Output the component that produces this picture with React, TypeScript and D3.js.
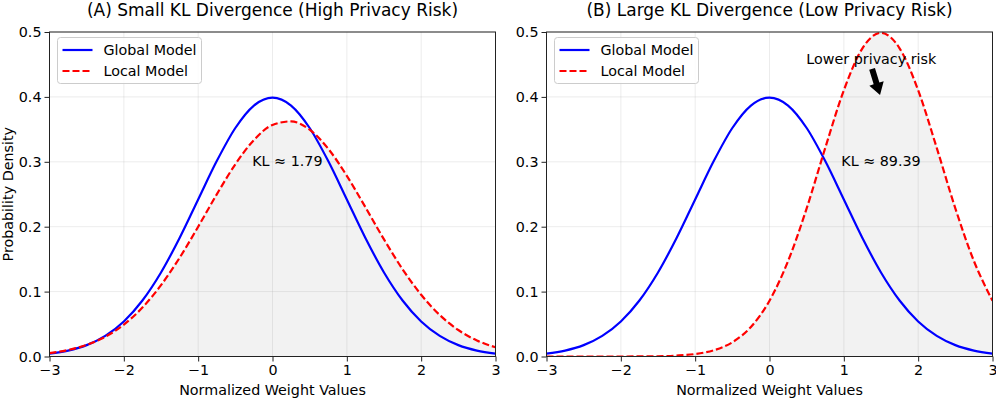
import React, { useRef, useEffect } from 'react';
import * as d3 from 'd3';

const xPoints = [-3, -2.75, -2.5, -2.25, -2, -1.75, -1.5, -1.25, -1, -0.75, -0.5, -0.25, 0,
  0.25, 0.5, 0.75, 1, 1.25, 1.5, 1.75, 2, 2.25, 2.5, 2.75, 3];

const globalModel = [0.0044, 0.0091, 0.0175, 0.0317, 0.0540, 0.0863, 0.1295, 0.1826, 0.2420, 0.3011,
  0.3521, 0.3867, 0.3989, 0.3867, 0.3521, 0.3011, 0.2420, 0.1826, 0.1295, 0.0863, 0.0540, 0.0317,
  0.0175, 0.0091, 0.0044];

const localSmallKL = [0.0053, 0.0100, 0.0178, 0.0304, 0.0491, 0.0754, 0.1099, 0.1521, 0.2000, 0.2498,
  0.2962, 0.3336, 0.3568, 0.3623, 0.3495, 0.3201, 0.2784, 0.2300, 0.1804, 0.1344, 0.0951, 0.0639,
  0.0408, 0.0247, 0.0142];

const localLargeKL = [0.0000, 0.0000, 0.0000, 0.0000, 0.0000, 0.0001, 0.0004, 0.0014, 0.0038, 0.0096,
  0.0219, 0.0456, 0.0860, 0.1471, 0.2283, 0.3214, 0.4102, 0.4749, 0.4987, 0.4749, 0.4102, 0.3214,
  0.2283, 0.1471, 0.0860];

const xTicks = [-3, -2, -1, 0, 1, 2, 3];
const yTicks = [0, 0.1, 0.2, 0.3, 0.4, 0.5];
const legendLabels = ['Global Model', 'Local Model'];

const panels = [
  { title: '(A) Small KL Divergence (High Privacy Risk)', local: localSmallKL, kl: 'KL ≈ 1.79', klX: 0.2, klY: 0.3, left: 49.5, yLabel: true, note: false },
  { title: '(B) Large KL Divergence (Low Privacy Risk)', local: localLargeKL, kl: 'KL ≈ 89.39', klX: 1.5, klY: 0.3, left: 546.5, yLabel: false, note: true },
];

const W = 996;
const H = 398;
const FONT = 'DejaVu Sans, sans-serif';
const FS = '14.3px';

const App = () => {
  const chartRef = useRef<SVGSVGElement | null>(null);

  useEffect(() => {
    const svg = d3.select(chartRef.current);
    svg.selectAll('*').remove();

    const axW = 446;
    const top = 32;
    const bottom = 356.5;

    panels.forEach(p => {
      const x = d3.scaleLinear().domain([-3, 3]).range([p.left, p.left + axW]);
      const y = d3.scaleLinear().domain([0, 0.5]).range([bottom, top]);
      const g = svg.append('g');

      // grid
      g.selectAll('.vgrid').data(xTicks).enter().append('line')
        .attr('x1', d => x(d)).attr('x2', d => x(d)).attr('y1', top).attr('y2', bottom)
        .attr('stroke', '#b0b0b0').attr('stroke-opacity', 0.3).attr('stroke-width', 0.8);
      g.selectAll('.hgrid').data(yTicks).enter().append('line')
        .attr('x1', p.left).attr('x2', p.left + axW).attr('y1', d => y(d)).attr('y2', d => y(d))
        .attr('stroke', '#b0b0b0').attr('stroke-opacity', 0.3).attr('stroke-width', 0.8);

      const localPts = xPoints.map((v, i) => [v, p.local[i]] as [number, number]);
      const globalPts = xPoints.map((v, i) => [v, globalModel[i]] as [number, number]);

      const area = d3.area<[number, number]>()
        .x(d => x(d[0])).y0(y(0)).y1(d => y(d[1])).curve(d3.curveMonotoneX);
      g.append('path').attr('d', area(localPts))
        .attr('fill', '#808080').attr('fill-opacity', 0.1)
        .attr('stroke', '#808080').attr('stroke-opacity', 0.1);

      const line = d3.line<[number, number]>()
        .x(d => x(d[0])).y(d => y(d[1])).curve(d3.curveMonotoneX);

      const clipId = 'clip' + p.left;
      svg.append('clipPath').attr('id', clipId).append('rect')
        .attr('x', p.left).attr('y', top - 2).attr('width', axW).attr('height', bottom - top + 2);

      g.append('path').attr('d', line(globalPts)).attr('fill', 'none')
        .attr('stroke', '#0000ff').attr('stroke-width', 2.2).attr('clip-path', `url(#${clipId})`);
      g.append('path').attr('d', line(localPts)).attr('fill', 'none')
        .attr('stroke', '#ff0000').attr('stroke-width', 2.2).attr('stroke-dasharray', '7,3')
        .attr('clip-path', `url(#${clipId})`);

      // spines
      g.append('rect').attr('x', p.left).attr('y', top).attr('width', axW).attr('height', bottom - top)
        .attr('fill', 'none').attr('stroke', '#222').attr('stroke-width', 1);

      // ticks
      const xAxis = g.append('g').attr('transform', `translate(0,${bottom})`)
        .call(d3.axisBottom(x).tickValues(xTicks).tickSize(5).tickPadding(3)
          .tickFormat(d => d3.format('d')(d as number).replace('-', '−')));
      const yAxis = g.append('g').attr('transform', `translate(${p.left},0)`)
        .call(d3.axisLeft(y).tickValues(yTicks).tickSize(5).tickPadding(3).tickFormat(d3.format('.1f')));
      [xAxis, yAxis].forEach(a => {
        a.select('.domain').remove();
        a.selectAll('line').attr('stroke', '#222');
        a.selectAll('text').attr('fill', '#000').style('font-family', FONT).style('font-size', FS);
      });

      // title and labels
      g.append('text').attr('x', p.left + axW / 2).attr('y', 16).attr('text-anchor', 'middle')
        .style('font-family', FONT).style('font-size', '17px').text(p.title);
      g.append('text').attr('x', p.left + axW / 2).attr('y', 395).attr('text-anchor', 'middle')
        .style('font-family', FONT).style('font-size', FS).text('Normalized Weight Values');
      if (p.yLabel) {
        g.append('text').attr('transform', `translate(13,${(top + bottom) / 2}) rotate(-90)`)
          .attr('text-anchor', 'middle').style('font-family', FONT).style('font-size', FS)
          .text('Probability Density');
      }

      // KL note
      g.append('text').attr('x', x(p.klX)).attr('y', y(p.klY)).attr('dy', '0.3em')
        .attr('text-anchor', 'middle').style('font-family', FONT).style('font-size', FS).text(p.kl);

      if (p.note) {
        g.append('text').attr('x', x(1.37)).attr('y', y(0.458)).attr('dy', '0.35em')
          .attr('text-anchor', 'middle').style('font-family', FONT).style('font-size', FS)
          .text('Lower privacy risk');
        const tx = x(1.38), ty = y(0.443), hx = x(1.487), hy = y(0.403);
        const len = Math.hypot(hx - tx, hy - ty);
        const ux = (hx - tx) / len, uy = (hy - ty) / len;
        const nx = -uy, ny = ux;
        const headL = 12, shaftW = 3, headW = 7.5;
        const bx = hx - ux * headL, by = hy - uy * headL;
        const pts = [
          [tx + nx * shaftW, ty + ny * shaftW],
          [bx + nx * shaftW, by + ny * shaftW],
          [bx + nx * headW, by + ny * headW],
          [hx, hy],
          [bx - nx * headW, by - ny * headW],
          [bx - nx * shaftW, by - ny * shaftW],
          [tx - nx * shaftW, ty - ny * shaftW],
        ];
        g.append('polygon').attr('points', pts.map(q => q.join(',')).join(' ')).attr('fill', '#000');
      }

      // legend
      const lx = p.left + 8, ly = 37.5;
      const leg = g.append('g');
      leg.append('rect').attr('x', lx).attr('y', ly).attr('width', 144).attr('height', 46).attr('rx', 3)
        .attr('fill', '#fff').attr('fill-opacity', 0.8).attr('stroke', '#cccccc').attr('stroke-width', 1);
      legendLabels.forEach((lab, i) => {
        const yy = ly + 12.5 + i * 21;
        leg.append('line').attr('x1', lx + 5).attr('x2', lx + 35).attr('y1', yy).attr('y2', yy)
          .attr('stroke', i === 0 ? '#0000ff' : '#ff0000').attr('stroke-width', 2.2)
          .attr('stroke-dasharray', i === 0 ? null : '7,3');
        leg.append('text').attr('x', lx + 46).attr('y', yy).attr('dy', '0.35em')
          .style('font-family', FONT).style('font-size', FS).text(lab);
      });
    });
  }, []);

  return (
    <svg ref={chartRef} width={W} height={H}
      style={{ position: 'absolute', left: 0, top: 0, background: '#fff' }} />
  );
};

export default App;
